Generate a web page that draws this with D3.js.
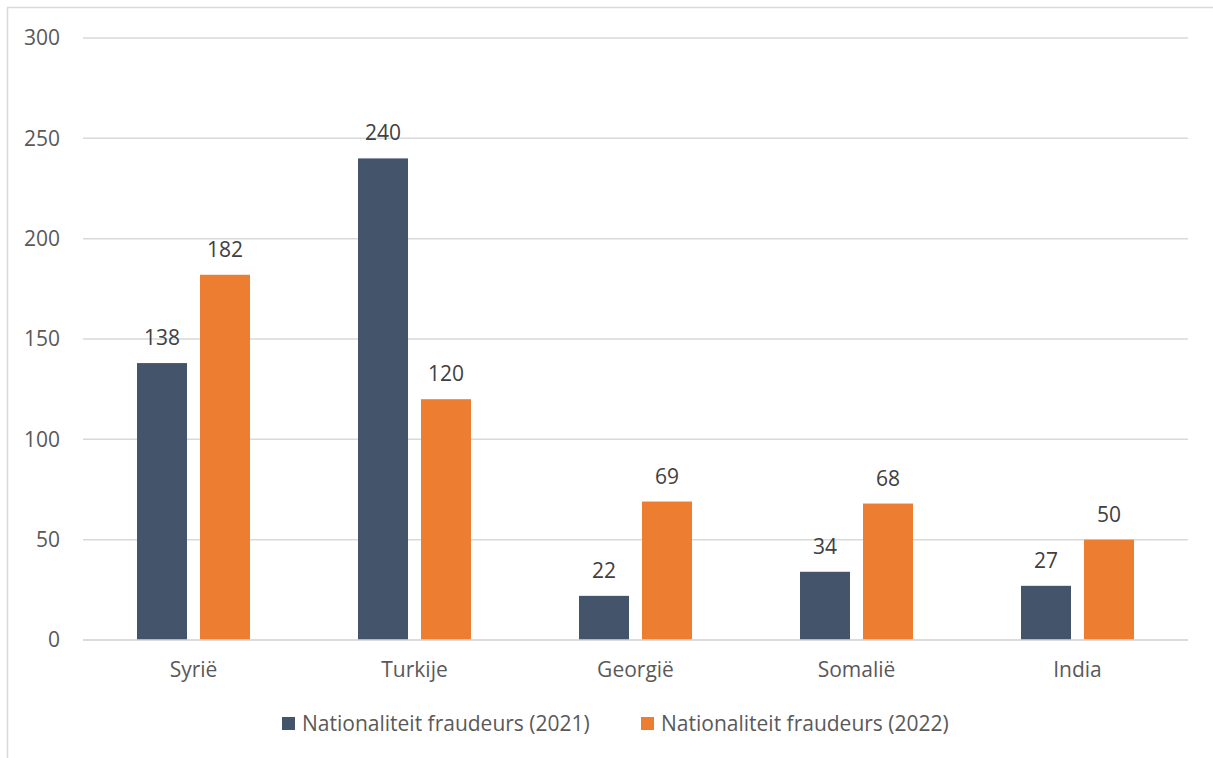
<!DOCTYPE html>
<html><head><meta charset="utf-8">
<script src="https://cdn.jsdelivr.net/npm/d3@7"></script>
<style>body{margin:0;background:#fff;}svg{display:block;font-family:"Open Sans",sans-serif;}</style>
</head><body>
<svg id="c" width="1213" height="758"></svg>
<script>
const categories = ["Syrië","Turkije","Georgië","Somalië","India"];
const values2021 = [138,240,22,34,27];
const values2022 = [182,120,69,68,50];
const seriesNames = ["Nationaliteit fraudeurs (2021)","Nationaliteit fraudeurs (2022)"];
const yTicks = [0,50,100,150,200,250,300];
const colors = ["#44546a","#ed7d31"];

const svg = d3.select("#c");
const W=1213,H=758;
const FS=21;
svg.append("rect").attr("x",7.5).attr("y",7.5).attr("width",W).attr("height",H).attr("fill","#fff").attr("stroke","#d9d9d9").attr("stroke-width",1.5);

const x0=83,x1=1188,yTop=38,yBot=640;
const x = d3.scaleBand().domain(categories).range([x0,x1]).paddingInner(0).paddingOuter(0);
const y = d3.scaleLinear().domain([0,300]).range([yBot,yTop]);
const series = [values2021, values2022];
const sub = d3.scaleBand().domain([0,1]).range([0,113]).paddingInner(13/63);

svg.append("g").selectAll("line").data(yTicks).join("line")
  .attr("x1",x0).attr("x2",x1).attr("y1",d=>y(d)).attr("y2",d=>y(d))
  .attr("stroke","#d9d9d9").attr("stroke-width",1.5);

svg.append("g").selectAll("text").data(yTicks).join("text")
  .attr("x",60).attr("y",d=>y(d)).attr("dy","0.35em").attr("text-anchor","end")
  .attr("fill","#595959").attr("font-size",FS).text(d=>d);

series.forEach((vals,si)=>{
  const g=svg.append("g");
  g.selectAll("rect").data(vals).join("rect")
    .attr("x",(d,i)=>x(categories[i])+x.bandwidth()/2-56.5+sub(si))
    .attr("width",sub.bandwidth())
    .attr("y",d=>y(d)).attr("height",d=>yBot-y(d)).attr("fill",colors[si]);
  g.selectAll("text").data(vals).join("text")
    .attr("x",(d,i)=>x(categories[i])+x.bandwidth()/2-56.5+sub(si)+sub.bandwidth()/2)
    .attr("y",d=>y(d)-18).attr("text-anchor","middle")
    .attr("fill","#404040").attr("font-size",FS).text(d=>d);
});

svg.append("line").attr("x1",x0).attr("x2",x1).attr("y1",yBot).attr("y2",yBot).attr("stroke","#d9d9d9").attr("stroke-width",1.5);

svg.append("g").selectAll("text").data(categories).join("text")
  .attr("x",d=>x(d)+x.bandwidth()/2).attr("y",670).attr("dy","0.35em").attr("text-anchor","middle")
  .attr("fill","#595959").attr("font-size",FS).text(d=>d);

const legX=[282,641];
seriesNames.forEach((n,i)=>{
  svg.append("rect").attr("x",legX[i]).attr("y",717).attr("width",13).attr("height",13).attr("fill",colors[i]);
  svg.append("text").attr("x",legX[i]+20).attr("y",724).attr("dy","0.35em").attr("fill","#595959").attr("font-size",FS).text(n);
});
</script>
</body></html>
